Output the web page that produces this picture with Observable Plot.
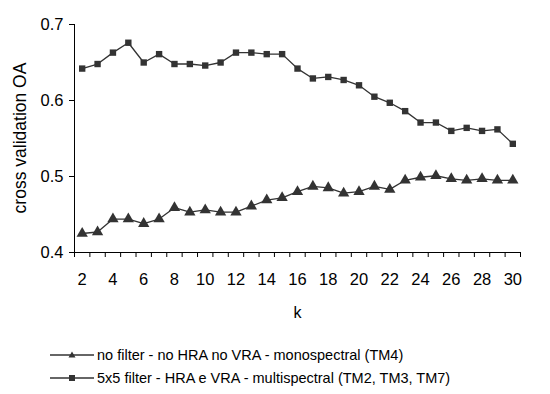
<!DOCTYPE html>
<html><head><meta charset="utf-8">
<script src="https://cdn.jsdelivr.net/npm/d3@7"></script>
<script src="https://cdn.jsdelivr.net/npm/@observablehq/plot@0.6"></script>
<style>
body{margin:0;background:#fff;font-family:"Liberation Sans",Arial,sans-serif;}
#wrap{position:relative;width:550px;height:394px;}
.leg{position:absolute;left:50px;font-size:14.5px;color:#000;display:flex;align-items:center;white-space:nowrap;}
.leg svg{margin-right:3px;}
</style></head>
<body><div id="wrap"><div id="chart"></div>
<div class="leg" style="top:347px"><svg width="44" height="12"><line x1="0" y1="6" x2="44" y2="6" stroke="#333" stroke-width="1.3"/><path d="M22,2.5 L25.5,8.5 L18.5,8.5 Z" fill="#333"/></svg>no filter - no HRA no VRA - monospectral (TM4)</div>
<div class="leg" style="top:370px"><svg width="44" height="12"><line x1="0" y1="6" x2="44" y2="6" stroke="#333" stroke-width="1.3"/><rect x="19" y="3" width="6" height="6" fill="#333"/></svg>5x5 filter - HRA e VRA - multispectral (TM2, TM3, TM7)</div>
</div>
<script>
const ks = [2,3,4,5,6,7,8,9,10,11,12,13,14,15,16,17,18,19,20,21,22,23,24,25,26,27,28,29,30];
const noFilter = [0.425,0.427,0.444,0.444,0.438,0.444,0.459,0.453,0.456,0.453,0.453,0.461,0.469,0.472,0.480,0.487,0.485,0.478,0.480,0.487,0.483,0.495,0.499,0.501,0.497,0.495,0.497,0.495,0.495];
const filter5x5 = [0.642,0.648,0.663,0.676,0.650,0.661,0.648,0.648,0.646,0.650,0.663,0.663,0.661,0.661,0.642,0.629,0.631,0.627,0.620,0.605,0.597,0.586,0.571,0.571,0.560,0.564,0.560,0.562,0.543];
const xLabels = [2,4,6,8,10,12,14,16,18,20,22,24,26,28,30];
const yTicks = [0.4,0.5,0.6,0.7];
const boundaries = [...ks.map(k => k - 0.5), ks[ks.length-1] + 0.5];

const a = ks.map((k,i)=>({k, v:noFilter[i]}));
const b = ks.map((k,i)=>({k, v:filter5x5[i]}));
const col = "#333";
const chart = Plot.plot({
  width:550, height:332,
  marginLeft:74, marginRight:30, marginTop:24, marginBottom:80,
  style:{fontFamily:"Liberation Sans, Arial, sans-serif", fontSize:"16.5px", color:"#000", background:"white", overflow:"visible"},
  x:{domain:[1.5,30.5]},
  y:{domain:[0.4,0.7]},
  marks:[
    Plot.axisY({ticks:yTicks, tickFormat:d3.format(".1f"), tickSize:5, tickPadding:6, label:null, stroke:"#000"}),
    Plot.axisX({ticks:boundaries, tickFormat:()=>"", tickSize:5, label:null, stroke:"#000"}),
    Plot.axisX({ticks:xLabels, tickSize:0, tickPadding:21, label:null}),
    Plot.ruleX([1.5], {stroke:"#000"}),
    Plot.ruleY([0.4], {stroke:"#000"}),
    Plot.line(a, {x:"k", y:"v", stroke:col, strokeWidth:1.3}),
    Plot.line(b, {x:"k", y:"v", stroke:col, strokeWidth:1.3}),
    Plot.dot(a, {x:"k", y:"v", symbol:"triangle", r:4.2, fill:col}),
    Plot.dot(b, {x:"k", y:"v", symbol:"square", r:3.6, fill:col}),
    Plot.text(["k"], {frameAnchor:"bottom", dy:65, fontSize:16})
  ]
});
// y-axis title
const svg = d3.select(chart);
svg.append("text")
  .attr("transform", "translate(21,138) rotate(-90)")
  .attr("text-anchor", "middle")
  .attr("dominant-baseline", "middle")
  .attr("font-size", "17.5px")
  .attr("font-family", "Liberation Sans, Arial, sans-serif")
  .attr("fill", "#000")
  .text("cross validation OA");
document.getElementById("chart").appendChild(chart);
</script></body></html>
